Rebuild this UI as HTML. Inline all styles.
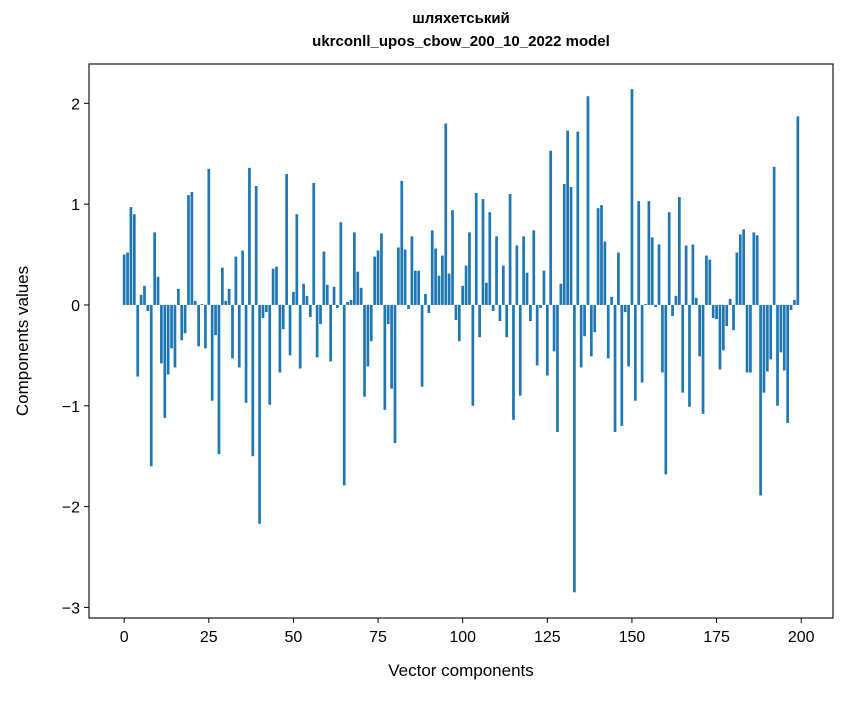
<!DOCTYPE html>
<html><head><meta charset="utf-8"><style>
body{margin:0;background:#fff;}
svg text{font-family:"Liberation Sans","DejaVu Sans",sans-serif;fill:#000;}
</style></head><body>
<svg id="chart" width="847" height="696" xmlns="http://www.w3.org/2000/svg">
<rect x="0" y="0" width="847" height="696" fill="#fff"/>
<text x="461" y="23" text-anchor="middle" font-size="15" font-weight="bold">шляхетський</text>
<text x="461" y="46" text-anchor="middle" font-size="15" font-weight="bold">ukrconll_upos_cbow_200_10_2022 model</text>
<g id="bars"></g>
<g id="axes"></g>
<rect x="89" y="64" width="744" height="554" fill="none" stroke="#000" stroke-width="1.1"/>
<text x="461" y="676" text-anchor="middle" font-size="17">Vector components</text>
<text transform="translate(28,341) rotate(-90)" text-anchor="middle" font-size="17">Components values</text>
</svg>
<script>
const values = [0.50,0.52,0.97,0.90,-0.71,0.10,0.19,-0.06,-1.60,0.72,
0.28,-0.58,-1.12,-0.69,-0.43,-0.62,0.16,-0.35,-0.28,1.09,
1.12,0.04,-0.41,0.01,-0.43,1.35,-0.95,-0.30,-1.48,0.37,
0.04,0.16,-0.53,0.48,-0.62,0.54,-0.97,1.36,-1.50,1.18,
-2.17,-0.13,-0.07,-0.99,0.36,0.38,-0.67,-0.24,1.30,-0.50,
0.13,0.90,-0.63,0.21,0.09,-0.12,1.21,-0.52,-0.19,0.53,
0.20,-0.56,0.18,-0.03,0.82,-1.79,0.03,0.05,0.72,0.33,
0.17,-0.91,-0.61,-0.36,0.48,0.54,0.71,-1.04,-0.19,-0.83,
-1.37,0.57,1.23,0.55,-0.04,0.68,0.34,0.34,-0.81,0.11,
-0.08,0.74,0.56,0.29,0.49,1.80,0.31,0.94,-0.15,-0.36,
0.19,0.39,0.72,-1.00,1.11,-0.32,1.05,0.22,0.92,-0.06,
0.68,-0.16,0.39,-0.32,1.10,-1.14,0.59,-0.90,0.68,0.32,
-0.16,0.74,-0.60,-0.03,0.34,-0.70,1.53,-0.46,-1.26,0.21,
1.20,1.73,1.17,-2.85,1.72,-0.62,-0.31,2.07,-0.51,-0.27,
0.96,0.99,0.63,-0.53,0.08,-1.26,0.52,-1.20,-0.07,-0.61,
2.14,-0.95,1.03,-0.77,0.01,1.03,0.67,-0.02,0.60,-0.67,
-1.68,0.92,-0.11,0.09,1.07,-0.87,0.59,-1.01,0.60,0.07,
-0.51,-1.08,0.49,0.45,-0.13,-0.14,-0.64,-0.45,-0.21,0.06,
-0.25,0.52,0.70,0.75,-0.67,-0.67,0.72,0.69,-1.89,-0.87,
-0.66,-0.54,1.37,-1.00,-0.47,-0.65,-1.17,-0.05,0.05,1.87];
const xTicks = [0,25,50,75,100,125,150,175,200];
const yTicks = [-3,-2,-1,0,1,2];
const L=89,R=833,T=64,B=618;
const xMin=-10.39,xMax=209.39,yMin=-3.105,yMax=2.39;
const xs=v=>L+(v-xMin)/(xMax-xMin)*(R-L);
const ys=v=>T+(yMax-v)/(yMax-yMin)*(B-T);
const NS="http://www.w3.org/2000/svg";
const bars=document.getElementById('bars');
values.forEach((v,i)=>{
  const r=document.createElementNS(NS,'rect');
  const x0=xs(i-0.4),x1=xs(i+0.4);
  const y0=ys(Math.max(v,0)),y1=ys(Math.min(v,0));
  r.setAttribute('x',x0);r.setAttribute('width',x1-x0);
  r.setAttribute('y',y0);r.setAttribute('height',Math.max(y1-y0,0.3));
  r.setAttribute('fill','#1f77b4');
  
  
  bars.appendChild(r);
});
const axes=document.getElementById('axes');
xTicks.forEach(t=>{
  const x=xs(t);
  const l=document.createElementNS(NS,'line');
  l.setAttribute('x1',x);l.setAttribute('x2',x);l.setAttribute('y1',B);l.setAttribute('y2',B+5);
  l.setAttribute('stroke','#000');
  
  
  axes.appendChild(l);
  const tx=document.createElementNS(NS,'text');
  tx.setAttribute('x',x);tx.setAttribute('y',B+24);tx.setAttribute('text-anchor','middle');tx.setAttribute('font-size','16');
  tx.textContent=t;
  
  
  axes.appendChild(tx);
});
yTicks.forEach(t=>{
  const y=ys(t);
  const l=document.createElementNS(NS,'line');
  l.setAttribute('x1',L-5);l.setAttribute('x2',L);l.setAttribute('y1',y);l.setAttribute('y2',y);
  l.setAttribute('stroke','#000');
  
  
  axes.appendChild(l);
  const tx=document.createElementNS(NS,'text');
  tx.setAttribute('x',L-9);tx.setAttribute('y',y+6);tx.setAttribute('text-anchor','end');tx.setAttribute('font-size','16');
  tx.textContent=t<0?'\u2212'+Math.abs(t):String(t);
  
  
  axes.appendChild(tx);
});
</script>
</body></html>
